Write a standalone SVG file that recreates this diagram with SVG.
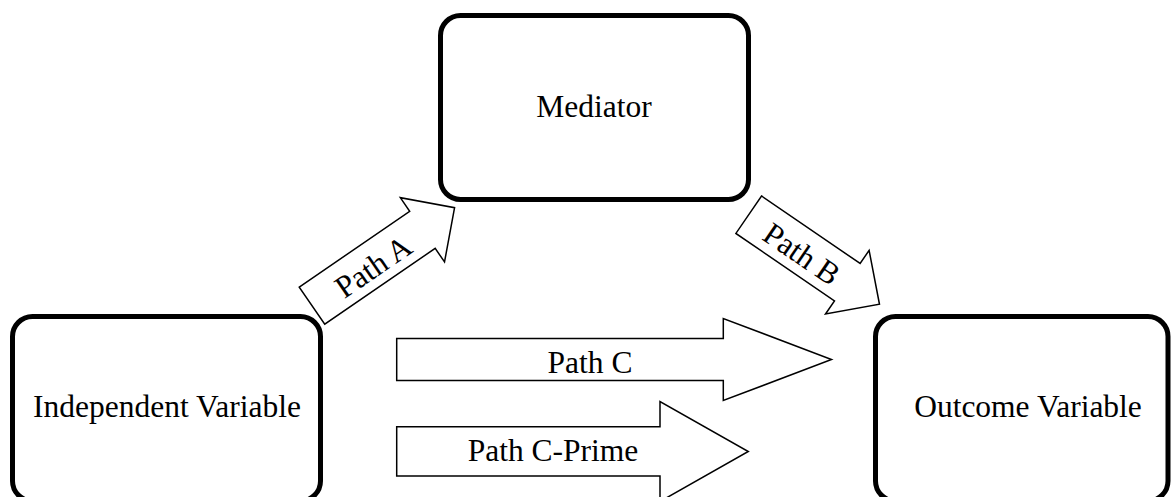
<svg xmlns="http://www.w3.org/2000/svg" width="1171" height="497" viewBox="0 0 1171 497">
<style>
.box{fill:#fff;stroke:#000;stroke-width:5}
.arrow{fill:#fff;stroke:#000;stroke-width:1.5;stroke-linejoin:miter}
text{font-family:"Liberation Serif","Times New Roman",serif;font-size:31.5px;fill:#000;text-anchor:middle}
</style>
<rect width="1171" height="497" fill="#fff"/>
<g id="node-mediator">
<rect class="box" x="440.5" y="15.5" width="308" height="184" rx="20" ry="20"/>
<text x="594" y="117">Mediator</text>
</g>
<g id="node-independent">
<rect class="box" x="12.5" y="316.5" width="308" height="184.5" rx="20" ry="20"/>
<text x="167" y="417">Independent Variable</text>
</g>
<g id="node-outcome">
<rect class="box" x="875.5" y="316.5" width="292.5" height="184.5" rx="20" ry="20"/>
<text x="1028" y="417">Outcome Variable</text>
</g>
<g id="connectors">
<g id="path-a" transform="translate(312,305.7) rotate(-34.5)">
<polygon class="arrow" points="0,-22.5 134,-22.5 134,-39 173,0 134,39 134,22.5 0,22.5"/>
<text x="72.6" y="13">Path A</text>
</g>
<g id="path-b" transform="translate(748.7,214.7) rotate(34.4)">
<polygon class="arrow" points="0,-22.7 119.5,-22.7 119.5,-38.6 158.5,0 119.5,38.6 119.5,22.7 0,22.7"/>
<text x="66" y="13">Path B</text>
</g>
<g id="path-c">
<polygon class="arrow" points="396.7,338.5 723.3,338.5 723.3,318.5 831.5,359.5 723.3,400.5 723.3,380.5 396.7,380.5"/>
<text x="590" y="372.7">Path C</text>
</g>
<g id="path-c-prime">
<polygon class="arrow" points="396.7,426.7 660,426.7 660,401.5 748.3,451.5 660,501.5 660,476 396.7,476"/>
<text x="553" y="461">Path C-Prime</text>
</g>
</g>
</svg>
